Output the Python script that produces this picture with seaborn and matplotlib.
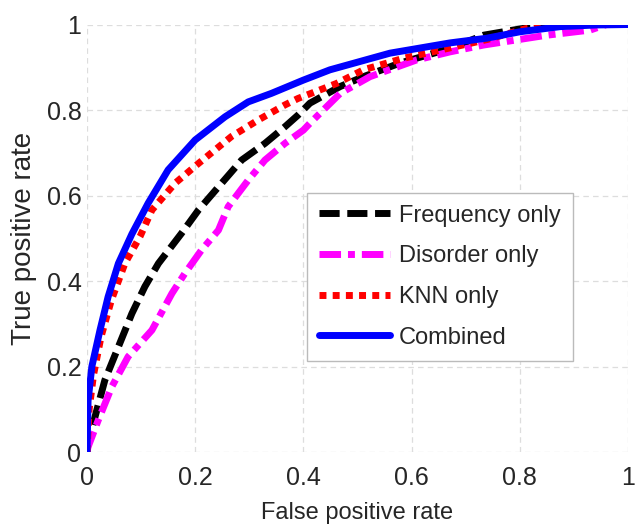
import matplotlib
matplotlib.use("Agg")
import matplotlib.pyplot as plt
import seaborn as sns
import pandas as pd

# ---- data ----
freq_fpr = [0.0, 0.002, 0.015, 0.033, 0.058, 0.083, 0.107, 0.132, 0.175, 0.206, 0.249, 0.286,
            0.329, 0.366, 0.39, 0.412, 0.468, 0.511, 0.579, 0.671, 0.733, 0.788, 0.85, 1.0]
freq_tpr = [0.0, 0.02, 0.083, 0.168, 0.246, 0.324, 0.387, 0.441, 0.512, 0.566, 0.629, 0.683,
            0.722, 0.761, 0.788, 0.816, 0.855, 0.878, 0.91, 0.944, 0.975, 0.987, 1.0, 1.0]

dis_fpr = [0.0, 0.002, 0.021, 0.046, 0.076, 0.12, 0.157, 0.181, 0.212, 0.243, 0.261, 0.298,
           0.329, 0.366, 0.4, 0.412, 0.468, 0.523, 0.609, 0.671, 0.733, 0.85, 0.93, 0.96, 1.0]
dis_tpr = [0.0, 0.012, 0.075, 0.153, 0.223, 0.285, 0.371, 0.418, 0.473, 0.519, 0.574, 0.636,
           0.683, 0.722, 0.753, 0.769, 0.839, 0.878, 0.917, 0.936, 0.952, 0.975, 0.987, 1.0, 1.0]

knn_fpr = [0.0, 0.004, 0.012, 0.026, 0.045, 0.07, 0.098, 0.12, 0.163, 0.206, 0.267, 0.317,
           0.366, 0.39, 0.461, 0.511, 0.585, 0.652, 0.74, 0.81, 0.85, 1.0]
knn_tpr = [0.0, 0.1, 0.18, 0.27, 0.355, 0.441, 0.504, 0.566, 0.629, 0.675, 0.738, 0.777,
           0.812, 0.827, 0.862, 0.894, 0.921, 0.94, 0.965, 0.99, 1.0, 1.0]

comb_fpr = [0.0, 0.002, 0.009, 0.024, 0.039, 0.058, 0.083, 0.113, 0.15, 0.2, 0.255, 0.298,
            0.341, 0.4, 0.449, 0.56, 0.671, 0.739, 0.8, 0.874, 0.942, 1.0]
comb_tpr = [0.0, 0.12, 0.2, 0.285, 0.363, 0.441, 0.51, 0.582, 0.66, 0.73, 0.784, 0.819,
            0.839, 0.87, 0.894, 0.933, 0.957, 0.968, 0.983, 0.995, 0.999, 1.0]

series_names = ["Frequency only", "Disorder only", "KNN only", "Combined"]
tick_values = [0, 0.2, 0.4, 0.6, 0.8, 1]
tick_labels = ["0", "0.2", "0.4", "0.6", "0.8", "1"]

rows = []
for name, xs, ys in zip(series_names,
                        [freq_fpr, dis_fpr, knn_fpr, comb_fpr],
                        [freq_tpr, dis_tpr, knn_tpr, comb_tpr]):
    for i, (a, b) in enumerate(zip(xs, ys)):
        rows.append({"method": name, "order": i, "fpr": a, "tpr": b})
df = pd.DataFrame(rows)

sns.set_style("white")
plt.rcParams["font.family"] = ["Liberation Sans", "DejaVu Sans"]
plt.rcParams["lines.scale_dashes"] = False

colors = {"Frequency only": "#000000", "Disorder only": "#ff00ff",
          "KNN only": "#ff0000", "Combined": "#0000ff"}
dashes = {"Frequency only": (14.5, 5.5),
          "Disorder only": (15.5, 5.0, 5.0, 5.0),
          "KNN only": (5.0, 4.5),
          "Combined": ""}

fig = plt.figure(figsize=(6.35, 5.24), dpi=100)
ax = fig.add_axes([0.137, 0.1374, 0.852, 0.8158])

sns.lineplot(data=df, x="fpr", y="tpr", hue="method", style="method",
             hue_order=series_names, style_order=series_names,
             palette=colors, dashes=dashes, sort=False, estimator=None,
             units="method", linewidth=5, ax=ax, legend=True)

ax.set_xlim(0, 1)
ax.set_ylim(0, 1)
ax.set_xticks(tick_values)
ax.set_xticklabels(tick_labels)
ax.set_yticks(tick_values)
ax.set_yticklabels(tick_labels)
ax.tick_params(axis="both", length=0, labelsize=18)
ax.tick_params(axis="x", pad=10)
ax.tick_params(axis="y", pad=4)
for s in ax.spines.values():
    s.set_visible(False)
ax.grid(True, color="#dddddd", linestyle=(0, (4, 3)), linewidth=0.9)
ax.set_axisbelow(True)

ax.set_xlabel("False positive rate", fontsize=17, labelpad=8.5)
ax.set_ylabel("True positive rate", fontsize=20, labelpad=7)

handles, labels = ax.get_legend_handles_labels()
leg = ax.legend(handles, labels, loc="upper left", bbox_to_anchor=(0.4067, 0.606),
                fontsize=17, frameon=True, fancybox=False, framealpha=1,
                edgecolor="#bbbbbb", handlelength=3.0, handletextpad=0.4,
                labelspacing=0.79, borderpad=0.5, borderaxespad=0)
leg.get_frame().set_linewidth(1.0)
for line in leg.get_lines():
    line.set_linewidth(5)

fig.savefig("out.png", dpi=100)
